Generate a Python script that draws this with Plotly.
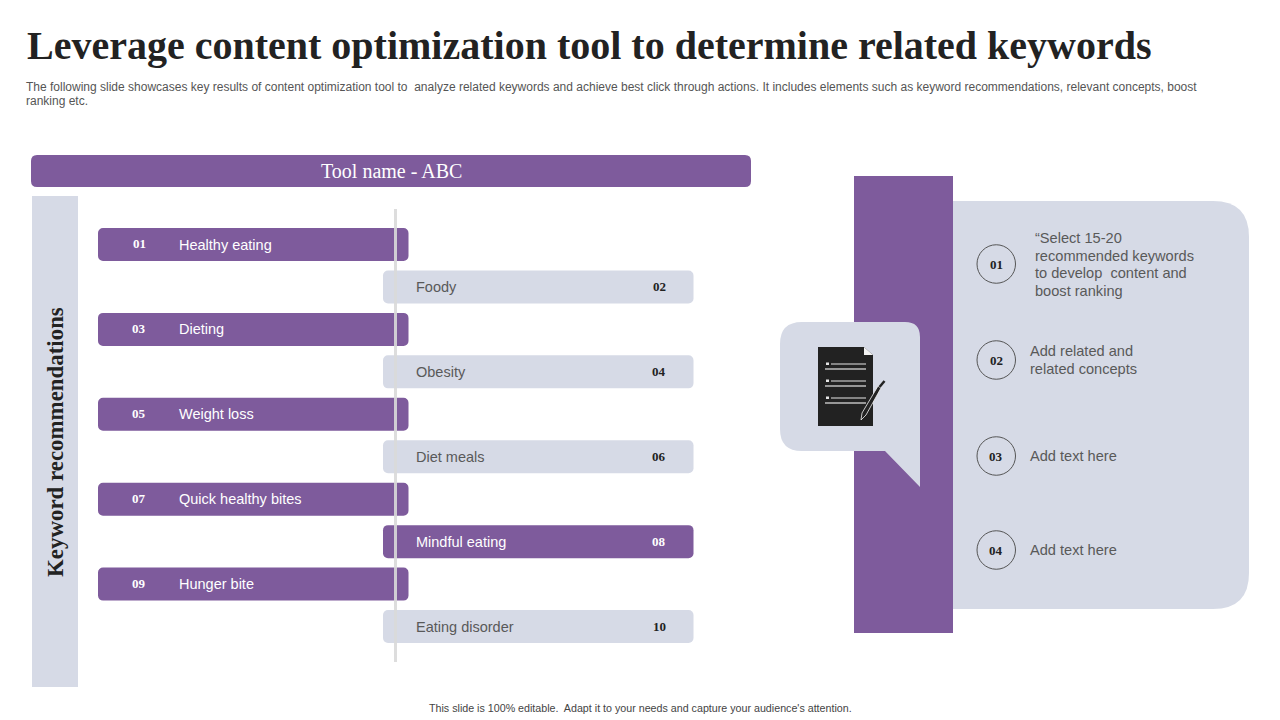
import plotly.graph_objects as go

TITLE = "Leverage content optimization tool to determine related keywords"
SUBTITLE = ["The following slide showcases key results of content optimization tool to  analyze related keywords and achieve best click through actions. It includes elements such as keyword recommendations, relevant concepts, boost",
            "ranking etc."]
HEADER = "Tool name - ABC"
SIDE_LABEL = "Keyword recommendations"
FOOTER = "This slide is 100% editable.  Adapt it to your needs and capture your audience's attention."
row_numbers = ["01", "02", "03", "04", "05", "06", "07", "08", "09", "10"]
row_keywords = ["Healthy eating", "Foody", "Dieting", "Obesity", "Weight loss",
                "Diet meals", "Quick healthy bites", "Mindful eating", "Hunger bite", "Eating disorder"]
highlighted_rows = ["08"]
note_numbers = ["01", "02", "03", "04"]
note_lines = [["\u201cSelect 15-20", "recommended keywords", "to develop  content and", "boost ranking"],
              ["Add related and", "related concepts"],
              ["Add text here"],
              ["Add text here"]]

PURPLE = "#7E5B9C"
LIGHT = "#D6DAE6"
DARK = "#222222"
TEXT = "#595959"
SERIF = "Liberation Serif"
SANS = "Liberation Sans"

ROW_Y0, ROW_STEP, ROW_H = 244.5, 42.45, 33
LEFT_X, RIGHT_X, ROW_W = 98, 383, 310.5
row_y = [ROW_Y0 + ROW_STEP * i for i in range(len(row_numbers))]

fig = go.Figure()


def rrect(x0, y0, x1, y1, rtl=0, rtr=0, rbr=0, rbl=0):
    return (f"M{x0+rtl},{y0} L{x1-rtr},{y0} Q{x1},{y0} {x1},{y0+rtr} L{x1},{y1-rbr} Q{x1},{y1} {x1-rbr},{y1} "
            f"L{x0+rbl},{y1} Q{x0},{y1} {x0},{y1-rbl} L{x0},{y0+rtl} Q{x0},{y0} {x0+rtl},{y0} Z")


shapes = []


def add_path(path, fill, layer="below", line=None, width=0):
    shapes.append(dict(type="path", path=path, fillcolor=fill, layer=layer,
                       line=dict(color=line or fill, width=width)))


def add_line(x0, y0, x1, y1, color, width, layer="above"):
    shapes.append(dict(type="line", x0=x0, y0=y0, x1=x1, y1=y1, layer=layer,
                       line=dict(color=color, width=width)))


annotations = []


def label(x, y, s, size, color, font=SANS, anchor="left", bold=False, angle=0):
    # annotations carry a 2 px inner offset on the anchored side
    ax = x - 2 if anchor == "left" else x
    annotations.append(dict(x=ax, y=y, text=f"<b>{s}</b>" if bold else s, showarrow=False,
                            xanchor=anchor, yanchor="middle", textangle=angle,
                            font=dict(family=font, size=size, color=color), align=anchor))


# left block
add_path(rrect(31, 155, 751, 187, 6, 6, 6, 6), PURPLE)
add_path(rrect(32, 196, 78, 687), LIGHT)

# keyword rows
groups = {"left": [], "right": [], "hi": []}
for i, n in enumerate(row_numbers):
    is_left = i % 2 == 0
    hi = n in highlighted_rows
    key = "left" if is_left else ("hi" if hi else "right")
    groups[key].append(i)
    white = is_left or hi
    tx = 179 if is_left else 416
    nx = 139 if is_left else 659
    label(tx, row_y[i], row_keywords[i], 14.5, "#FFFFFF" if white else TEXT)
    label(nx, row_y[i] - (1 if is_left else 0), n, 13, "#FFFFFF" if white else DARK, SERIF, "center", True)

for key, color, x0 in (("left", PURPLE, LEFT_X), ("right", LIGHT, RIGHT_X), ("hi", PURPLE, RIGHT_X)):
    idx = groups[key]
    fig.add_trace(go.Bar(orientation="h", y=[row_y[i] for i in idx], x=[ROW_W] * len(idx),
                         base=[x0] * len(idx), width=[ROW_H] * len(idx),
                         marker=dict(color=color, line=dict(width=0)),
                         hoverinfo="text", hovertext=[row_keywords[i] for i in idx],
                         showlegend=False))

add_line(395.5, 209, 395.5, 662, "rgba(217,217,217,0.9)", 3)

# right block
add_path(rrect(854, 176, 953, 633), PURPLE)
add_path(rrect(953, 201, 1249, 609, 0, 36, 36, 0), LIGHT)
# speech bubble
add_path("M802,322 L905,322 Q920,322 920,337 L920,487 L885,451 L802,451 Q780,451 780,429 L780,344 Q780,322 802,322 Z", LIGHT)
# document icon
add_path("M818,347 L864,347 L873,355 L873,426 L818,426 Z", DARK)
add_path("M864,347 L873,355 L864,355 Z", "#F2F2F2")
for yy in (364, 381, 398):
    add_path(f"M826,{yy-1.5} L829,{yy-1.5} L829,{yy+1} L826,{yy+1} Z", "#E6E6E6")
    add_line(831, yy, 866, yy, "#E6E6E6", 1)
    add_line(825, yy + 5, 866, yy + 5, "#BFBFBF", 1.3)
# pen
add_path("M861,420 L862,413 L878,386 L881,388 L866,415 Z", DARK, layer="above", line="#F2F2F2", width=0.8)
add_line(879.5, 387, 884.5, 381, DARK, 2.5)

# notes
circle_y = [264, 360, 456, 550]
text_x = [1035, 1030, 1030, 1030]
first_y = [238, 351, 456, 550]
line_step = 17.7
for n, cy, tx, fy, lines in zip(note_numbers, circle_y, text_x, first_y, note_lines):
    shapes.append(dict(type="circle", x0=977, x1=1015.5, y0=cy - 19.25, y1=cy + 19.25,
                       fillcolor="rgba(0,0,0,0)", layer="above", line=dict(color="#555555", width=1)))
    label(996, cy, n, 13, DARK, SERIF, "center", True)
    for j, t in enumerate(lines):
        label(tx, fy + j * line_step, t, 14.6, TEXT)

# titles
label(27, 45.5, TITLE, 40, DARK, SERIF, bold=True)
for j, t in enumerate(SUBTITLE):
    label(26, 87 + j * 14, t, 12, "#555555")
label(391.5, 170.5, HEADER, 20, "#FFFFFF", SERIF, "center")
label(55, 442, SIDE_LABEL, 22.9, DARK, SERIF, "center", True, -90)
label(640, 708, FOOTER, 10.7, "#444444", SANS, "center")

fig.update_layout(
    width=1280, height=720, margin=dict(l=0, r=0, t=0, b=0),
    paper_bgcolor="#FFFFFF", plot_bgcolor="#FFFFFF", showlegend=False,
    barmode="overlay", barcornerradius=5,
    xaxis=dict(range=[0, 1280], visible=False, fixedrange=True),
    yaxis=dict(range=[720, 0], visible=False, fixedrange=True),
    shapes=shapes, annotations=annotations,
)
fig.write_html("out.html", config={"displayModeBar": False},
               post_script="document.body.style.margin='0';document.body.style.overflow='hidden';")
